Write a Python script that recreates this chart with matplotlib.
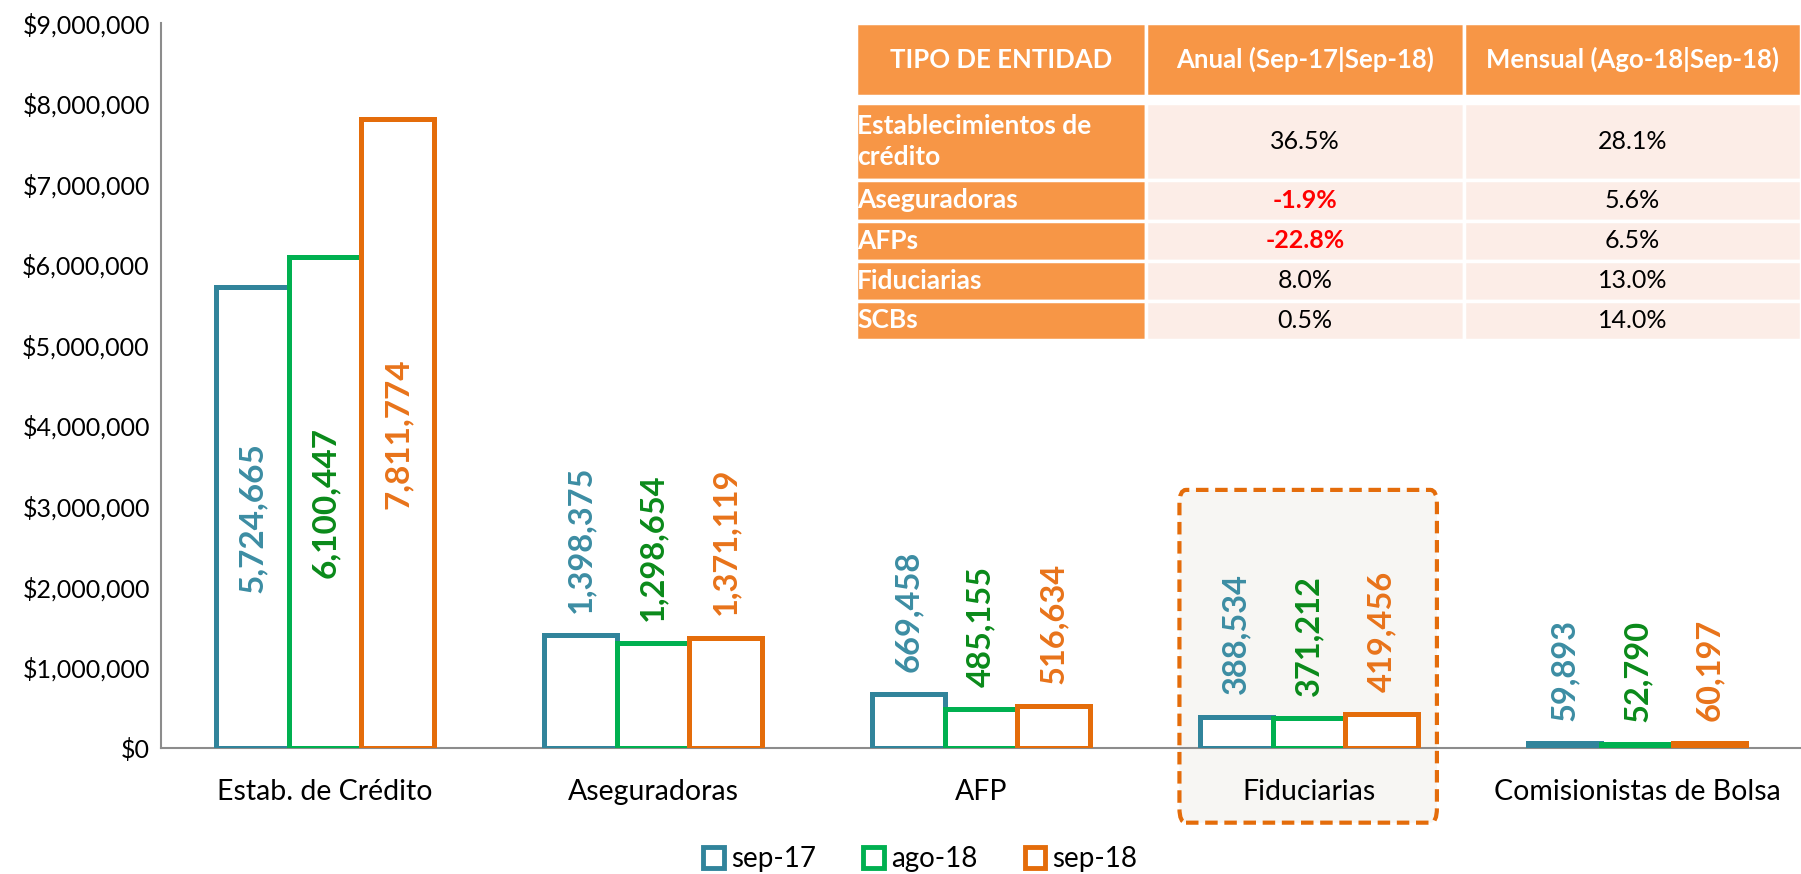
import matplotlib.pyplot as plt
import matplotlib.transforms as mtransforms
from matplotlib.patches import Patch, Rectangle, FancyBboxPatch
from matplotlib.ticker import FuncFormatter
import numpy as np

plt.rcParams["font.family"] = ["Lato", "DejaVu Sans"]

# DATA
categories = ["Estab. de Crédito", "Aseguradoras", "AFP", "Fiduciarias", "Comisionistas de Bolsa"]
series_names = ["sep-17", "ago-18", "sep-18"]
sep17 = [5724665, 1398375, 669458, 388534, 59893]
ago18 = [6100447, 1298654, 485155, 371212, 52790]
sep18 = [7811774, 1371119, 516634, 419456, 60197]

table_header = ["TIPO DE ENTIDAD", "Anual (Sep-17|Sep-18)", "Mensual (Ago-18|Sep-18)"]
table_entities = ["Establecimientos de\ncrédito", "Aseguradoras", "AFPs", "Fiduciarias", "SCBs"]
table_anual = [36.5, -1.9, -22.8, 8.0, 0.5]
table_mensual = [28.1, 5.6, 6.5, 13.0, 14.0]

edge_colors = ["#31849B", "#00B050", "#E46C0A"]
label_colors = ["#3C8DA3", "#0A8A1A", "#E8731A"]

fig = plt.figure(figsize=(18.01, 8.74), dpi=100)
ax = fig.add_axes([161 / 1801, 126 / 874, 1640 / 1801, 725 / 874])

x = np.arange(len(categories))
w = 0.222
all_series = [sep17, ago18, sep18]

# highlight box around Fiduciarias
trans = mtransforms.blended_transform_factory(ax.transData, ax.transAxes)
box = FancyBboxPatch((3 - 0.395, -0.103), 0.785, 0.459, boxstyle="round,pad=0,rounding_size=0.02",
                     transform=trans, facecolor="#F7F6F3", edgecolor="#E46C0A",
                     linewidth=3, linestyle=(0, (3, 1.6)), clip_on=False, zorder=0.5)
ax.add_patch(box)

for i, (vals, ec, lc) in enumerate(zip(all_series, edge_colors, label_colors)):
    pos = x + (i - 1) * w
    ax.bar(pos, vals, width=w, facecolor="white", edgecolor=ec, linewidth=3.6,
           label=series_names[i], zorder=2 + i)
    for j, (p, v) in enumerate(zip(pos, vals)):
        txt = f"{v:,}"
        if j == 0:
            ax.text(p, v / 2, txt, rotation=90, ha="center", va="center",
                    color=lc, fontsize=24, fontweight="bold", zorder=10)
        else:
            ax.annotate(txt, (p, v), xytext=(0, 16), textcoords="offset points",
                        rotation=90, ha="center", va="bottom",
                        color=lc, fontsize=23.5, fontweight="bold", zorder=10)

ax.set_xlim(-0.5, 4.5)
ax.set_ylim(0, 9000000)
ax.set_yticks(np.arange(0, 9000001, 1000000))
ax.yaxis.set_major_formatter(FuncFormatter(lambda v, _: f"${v:,.0f}"))
ax.set_xticks(x)
ax.set_xticklabels(categories)
ax.tick_params(axis="both", length=0)
ax.tick_params(axis="x", labelsize=20.5, pad=22)
ax.tick_params(axis="y", labelsize=18, pad=8)
for s in ["top", "right"]:
    ax.spines[s].set_visible(False)
for s in ["left", "bottom"]:
    ax.spines[s].set_color("#8C8C8C")
    ax.spines[s].set_linewidth(1.5)
ax.spines["bottom"].set_zorder(1)

# table
tax = fig.add_axes([856 / 1801, (874 - 340) / 874, 945 / 1801, 317 / 874])
tax.set_xlim(0, 945)
tax.set_ylim(317, 0)
tax.axis("off")
col_edges = [0, 290, 608, 945]
row_edges = [(0, 73), (80, 157), (157, 198), (198, 238), (238, 278), (278, 317)]
orange = "#F79646"
pale = "#FCEDE7"
for c in range(3):
    x0, x1 = col_edges[c], col_edges[c + 1]
    y0, y1 = row_edges[0]
    tax.add_patch(Rectangle((x0, y0), x1 - x0, y1 - y0, facecolor=orange, edgecolor="white", linewidth=2.5))
    tax.text((x0 + x1) / 2, (y0 + y1) / 2, table_header[c], ha="center", va="center",
             color="white", fontsize=18.5, fontweight="bold")
for r in range(len(table_entities)):
    y0, y1 = row_edges[r + 1]
    cells = [table_entities[r], table_anual[r], table_mensual[r]]
    for c in range(3):
        x0, x1 = col_edges[c], col_edges[c + 1]
        fc = orange if c == 0 else pale
        tax.add_patch(Rectangle((x0, y0), x1 - x0, y1 - y0, facecolor=fc, edgecolor="white", linewidth=2.5))
        if c == 0:
            tax.text(x0 + 1, (y0 + y1) / 2, cells[c], ha="left", va="center", color="white",
                     fontsize=19, fontweight="bold", linespacing=1.35)
        else:
            v = cells[c]
            neg = v < 0
            tax.text((x0 + x1) / 2, (y0 + y1) / 2, f"{v:.1f}%", ha="center", va="center",
                     color="#FF0000" if neg else "black", fontsize=18,
                     fontweight="bold" if neg else "normal")

handles = [Patch(facecolor="white", edgecolor=c, linewidth=3.5, label=n)
           for c, n in zip(edge_colors, series_names)]
fig.legend(handles=handles, loc="center", bbox_to_anchor=(0.511, 0.017), ncol=3, frameon=False,
           fontsize=20, handlelength=0.75, handleheight=0.75, handletextpad=0.25, columnspacing=1.7)

fig.savefig("out.png", dpi=100)
